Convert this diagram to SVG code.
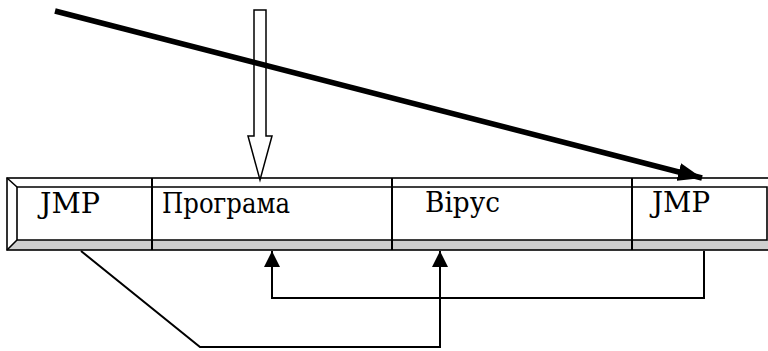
<svg xmlns="http://www.w3.org/2000/svg" width="768" height="351" viewBox="0 0 768 351">
  <style>
    .edge { fill: none; stroke: #000; stroke-width: 1.6; }
    .div { stroke: #000; stroke-width: 2; }
    .lbl { font-family: 'DejaVu Serif', serif; font-size: 27px; fill: #000; }
    .link { fill: none; stroke: #000; stroke-width: 2; }
  </style>
  <defs>
    <marker id="tri" viewBox="0 0 16 16" refX="16" refY="8" markerWidth="16" markerHeight="16" markerUnits="userSpaceOnUse" orient="auto">
      <path d="M0,0 L16,8 L0,16 Z" fill="#000"/>
    </marker>
    <marker id="big" viewBox="0 0 24 18" refX="24" refY="9" markerWidth="24" markerHeight="18" markerUnits="userSpaceOnUse" orient="auto">
      <path d="M0,0 L24,9 L0,18 Z" fill="#000"/>
    </marker>
  </defs>

  <!-- memory strip with bevelled frame -->
  <g id="strip">
    <rect x="7" y="178" width="775" height="72" fill="#fff"/>
    <polygon points="7,250 17,240 772,240 782,250" fill="#cfcfcf"/>
    <rect x="7" y="178" width="775" height="72" class="edge"/>
    <polyline points="17,240 17,187 767,187 767,240 17,240" class="edge"/>
    <line x1="7" y1="178" x2="17" y2="187" class="edge"/>
    <line x1="7" y1="250" x2="17" y2="240" class="edge"/>
  </g>

  <g id="cell-jmp1">
    <text x="40" y="213" class="lbl" textLength="60" lengthAdjust="spacingAndGlyphs">JMP</text>
  </g>
  <g id="cell-program">
    <line x1="152" y1="178" x2="152" y2="250" class="div"/>
    <text x="162" y="213" class="lbl" textLength="128" lengthAdjust="spacingAndGlyphs">Програма</text>
  </g>
  <g id="cell-virus">
    <line x1="392" y1="178" x2="392" y2="250" class="div"/>
    <text x="425" y="212" class="lbl" textLength="75" lengthAdjust="spacingAndGlyphs">Вірус</text>
  </g>
  <g id="cell-jmp2">
    <line x1="632" y1="178" x2="632" y2="250" class="div"/>
    <text x="652" y="212" class="lbl" textLength="58" lengthAdjust="spacingAndGlyphs">JMP</text>
  </g>

  <g id="connectors">
    <!-- hollow entry arrow -->
    <polygon points="254,10 266,10 266,136 272,136 260,180 248,136 254,136" fill="#fff" stroke="#000" stroke-width="1.5"/>
    <!-- thick arrow to the trailing JMP -->
    <line x1="55" y1="11" x2="702" y2="178" stroke="#000" stroke-width="5.5" marker-end="url(#big)"/>
    <!-- first JMP jumps to the virus -->
    <polyline points="81,251 200,347 440,347 440,251" class="link" marker-end="url(#tri)"/>
    <!-- trailing JMP returns to the program -->
    <polyline points="704,251 704,298 272,298 272,251" class="link" marker-end="url(#tri)"/>
  </g>
</svg>
